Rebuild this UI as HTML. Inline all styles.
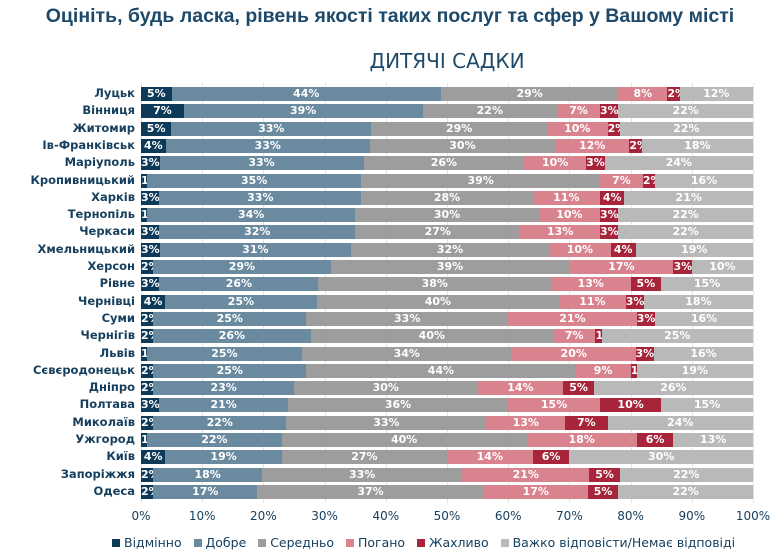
<!DOCTYPE html><html><head><meta charset="utf-8"><style>
body{margin:0;width:780px;height:560px;background:#fff;font-family:"DejaVu Sans","Liberation Sans",sans-serif;overflow:hidden;position:relative;color:#17405e}
.t{position:absolute;left:0;width:780px;text-align:center;top:5px;font-size:19.5px;font-weight:bold;color:#1d4a6a;font-family:"Liberation Sans",sans-serif;white-space:nowrap}
.s{position:absolute;left:141px;width:612px;text-align:center;top:49px;font-size:20px;color:#1d4a6a}
.c{position:absolute;right:645px;font-size:11.5px;font-weight:bold;white-space:nowrap;color:#17405e}
.b{position:absolute;height:14px;color:#fff;font-size:11px;font-weight:bold;text-align:center;line-height:14px;overflow:hidden;white-space:nowrap}
.x{position:absolute;top:509px;font-size:12px;width:50px;margin-left:-25px;text-align:center}
.g{position:absolute;top:83px;height:420px;width:1px;background:#e4e4e4}
.lg{position:absolute;top:535px;font-size:12.5px;white-space:nowrap}
.lg i{display:inline-block;width:8px;height:8px;margin-right:4px}
</style></head><body>
<div class="t">Оцініть, будь ласка, рівень якості таких послуг та сфер у Вашому місті</div>
<div class="s">ДИТЯЧІ САДКИ</div>
<div id="r"></div>
<div class="lg" style="left:112px"><i style="background:#0e3a5a"></i>Відмінно &nbsp;&nbsp;<i style="background:#6a8aa0"></i>Добре &nbsp;&nbsp;<i style="background:#9d9d9d"></i>Середньо &nbsp;&nbsp;<i style="background:#d9838f"></i>Погано &nbsp;&nbsp;<i style="background:#a8243a"></i>Жахливо &nbsp;&nbsp;<i style="background:#b9b9b9"></i>Важко відповісти/Немає відповіді</div>
<script>
var d=[["Луцьк",5,44,29,8,2,12],["Вінниця",7,39,22,7,3,22],["Житомир",5,33,29,10,2,22],["Ів-Франківськ",4,33,30,12,2,18],["Маріуполь",3,33,26,10,3,24],["Кропивницький",1,35,39,7,2,16],["Харків",3,33,28,11,4,21],["Тернопіль",1,34,30,10,3,22],["Черкаси",3,32,27,13,3,22],["Хмельницький",3,31,32,10,4,19],["Херсон",2,29,39,17,3,10],["Рівне",3,26,38,13,5,15],["Чернівці",4,25,40,11,3,18],["Суми",2,25,33,21,3,16],["Чернігів",2,26,40,7,1,25],["Львів",1,25,34,20,3,16],["Сєвєродонецьк",2,25,44,9,1,19],["Дніпро",2,23,30,14,5,26],["Полтава",3,21,36,15,10,15],["Миколаїв",2,22,33,13,7,24],["Ужгород",1,22,40,18,6,13],["Київ",4,19,27,14,6,30],["Запоріжжя",2,18,33,21,5,22],["Одеса",2,17,37,17,5,22]];
var col=["#0e3a5a","#6a8aa0","#9d9d9d","#d9838f","#a8243a","#b9b9b9"];
var h="",L=141,W=612;
for(var k=0;k<=10;k++){h+='<div class="g" style="left:'+(L+W*k/10)+'px"></div><div class="x" style="left:'+(L+W*k/10)+'px">'+(k*10)+'%</div>';}
d.forEach(function(r,i){var y=87+i*17.3;h+='<div class="c" style="top:'+(y-1)+'px">'+r[0]+'</div>';
var s=0;for(var j=1;j<7;j++)s+=r[j];var x=L;
for(var j=1;j<7;j++){var w=W*r[j]/s;h+='<div class="b" style="left:'+x+'px;top:'+y+'px;width:'+w+'px;background:'+col[j-1]+'">'+r[j]+'%</div>';x+=w;}});
document.getElementById("r").innerHTML=h;
</script></body></html>
